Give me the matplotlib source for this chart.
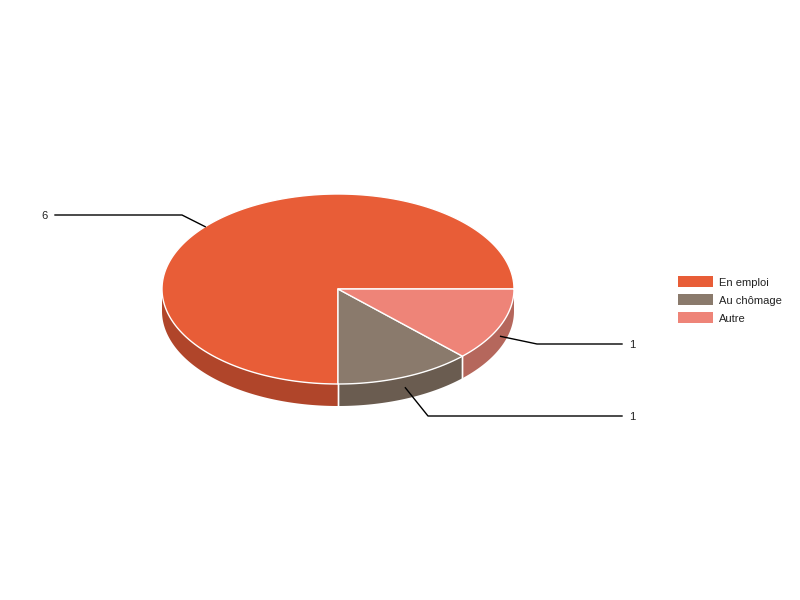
import numpy as np
import matplotlib.pyplot as plt
from matplotlib.patches import Polygon, Rectangle

plt.rcParams['font.family'] = ['Liberation Sans', 'DejaVu Sans']

# -----------------------------------------------------------------------------
# Data
# -----------------------------------------------------------------------------
labels = ['En emploi', 'Au chômage', 'Autre']
values = [6, 1, 1]
top_colors = ['#E85D37', '#8A7A6C', '#EE8478']
side_colors = ['#B0452A', '#6A5C50', '#B5675C']

# pie geometry (pixel space, y down)
cx, cy = 338, 289
rx, ry = 176, 95
depth = 22

fig = plt.figure(figsize=(8, 6), dpi=100)
ax = fig.add_axes([0, 0, 1, 1])
ax.set_xlim(0, 800)
ax.set_ylim(600, 0)
ax.axis('off')


def ell(t, dy=0):
    t = np.radians(t)
    return np.column_stack([cx + rx * np.cos(t), cy - ry * np.sin(t) + dy])


fracs = np.array(values) / sum(values)
edges = np.concatenate([[0], np.cumsum(fracs) * 360])

# side walls (only the front half, 180..360 deg, is visible)
for i in range(len(values)):
    a0, a1 = max(edges[i], 180), min(edges[i + 1], 360)
    if a1 <= a0:
        continue
    t = np.linspace(a0, a1, 100)
    pts = np.vstack([ell(t), ell(t[::-1], depth)])
    ax.add_patch(Polygon(pts, closed=True, facecolor=side_colors[i],
                         edgecolor='none', zorder=1))
    for a in (a0, a1):
        if 180 < a < 360:
            p = ell([a])[0]
            ax.plot([p[0], p[0]], [p[1], p[1] + depth], color='white', lw=1, zorder=2)

# top faces
for i in range(len(values)):
    t = np.linspace(edges[i], edges[i + 1], 200)
    pts = np.vstack([[cx, cy], ell(t)])
    ax.add_patch(Polygon(pts, closed=True, facecolor=top_colors[i],
                         edgecolor='white', lw=1, joinstyle='round', zorder=3))

# leader lines and value labels (text end, elbow x, y)
label_pos = [(55, 182, 215), (622, 428, 416), (622, 537, 344)]
for i in range(len(values)):
    mid = (edges[i] + edges[i + 1]) / 2
    dy = depth / 2 if 180 < mid < 360 else 0
    if mid < 180:
        mid += 4
    ax_, ay_ = ell([mid], dy)[0]
    tx, ex, ty = label_pos[i]
    ax.plot([ax_, ex, tx], [ay_, ty, ty], color='black', lw=1, zorder=4)
    if tx < cx:
        ax.text(tx - 7, ty + 1, str(values[i]), ha='right', va='center', fontsize=8, color='#222222')
    else:
        ax.text(tx + 7, ty + 1, str(values[i]), ha='left', va='center', fontsize=8, color='#222222')

# legend
for i, lab in enumerate(labels):
    y = 276 + i * 18
    ax.add_patch(Rectangle((678, y), 35, 11, facecolor=top_colors[i], edgecolor='none'))
    ax.text(719, y + 6.5, lab, ha='left', va='center', fontsize=8, color='#222222')

fig.savefig('out.png', dpi=100, facecolor='white')
